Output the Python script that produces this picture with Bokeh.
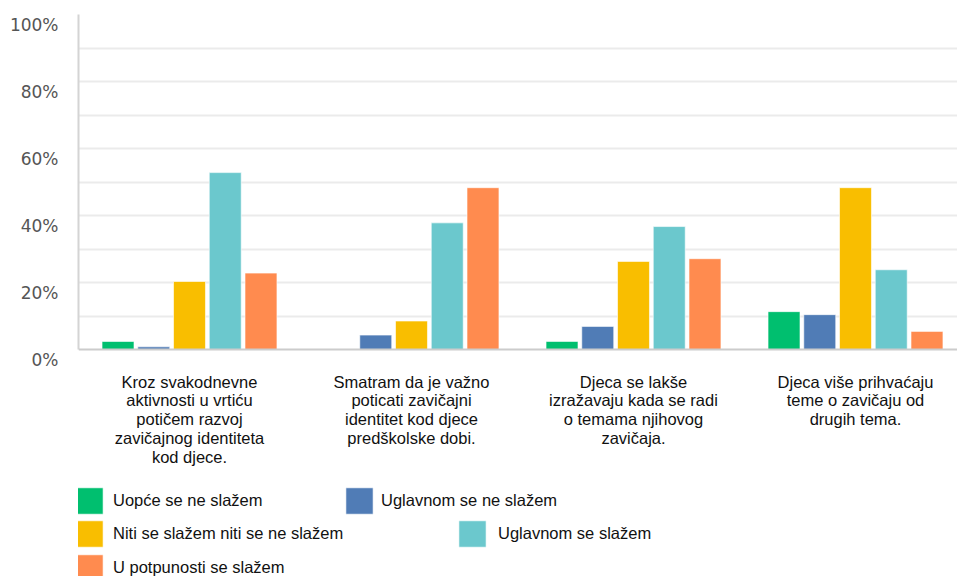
from bokeh.plotting import figure
from bokeh.models import (Range1d, LinearAxis, FixedTicker, PrintfTickFormatter,
                          Span, Legend, LegendItem)
from bokeh.core.properties import value
from bokeh.embed import file_html
from bokeh.resources import INLINE

categories = [
    "Kroz svakodnevne\naktivnosti u vrtiću\npotičem razvoj\nzavičajnog identiteta\nkod djece.",
    "Smatram da je važno\npoticati zavičajni\nidentitet kod djece\npredškolske dobi.",
    "Djeca se lakše\nizražavaju kada se radi\no temama njihovog\nzavičaja.",
    "Djeca više prihvaćaju\nteme o zavičaju od\ndrugih tema.",
]
series_names = [
    "Uopće se ne slažem",
    "Uglavnom se ne slažem",
    "Niti se slažem niti se ne slažem",
    "Uglavnom se slažem",
    "U potpunosti se slažem",
]
uopce_ne = [2.4, 0.0, 2.4, 11.3]
uglavnom_ne = [0.8, 4.3, 6.9, 10.4]
niti_niti = [20.3, 8.5, 26.3, 48.3]
uglavnom_da = [52.8, 37.8, 36.7, 23.8]
potpuno_da = [22.8, 48.3, 27.1, 5.4]
y_ticks = [0, 20, 40, 60, 80, 100]

series = [uopce_ne, uglavnom_ne, niti_niti, uglavnom_da, potpuno_da]
colors = ["#00BF6F", "#507CB6", "#F9BE00", "#6BC8CD", "#FF8B4F"]

group_centers = [i + 0.5 for i in range(len(categories))]
step = 0.161
bar_w = 0.144

W, H = 957, 576
top_px, base_px = 14, 349           # pixel rows of 100% and 0%
px_per_unit = (base_px - top_px) / 100.0
y_start = -(H - base_px) / px_per_unit
shift = 10 / px_per_unit            # tick labels sit ~10px below their gridlines

p = figure(width=W, height=H, output_backend="svg", toolbar_location=None,
           x_range=Range1d(0, (W - 78) / 222.0), y_range=Range1d(y_start, 100),
           min_border_left=78, min_border_right=0, min_border_top=top_px,
           min_border_bottom=0)
p.outline_line_color = None
p.background_fill_color = "white"
p.border_fill_color = "white"
p.xaxis.visible = False

# grid
p.xgrid.visible = False
p.ygrid.ticker = FixedTicker(ticks=[10, 20, 30, 40, 50, 60, 70, 80, 90, 100])
p.ygrid.grid_line_color = "#ebebeb"
p.ygrid.grid_line_width = 2

renderers = []
for k, (vals, col) in enumerate(zip(series, colors)):
    xs = [c + (k - 2) * step for c in group_centers]
    r = p.vbar(x=xs, top=vals, bottom=0, width=bar_w, fill_color=col,
               line_color="white", line_alpha=0.6, line_width=1)
    renderers.append(r)

# baseline
p.add_layout(Span(location=0, dimension="width", line_color="#cccccc", line_width=2))

# primary y axis: line only
p.yaxis.bounds = (0, 100)
p.yaxis.ticker = FixedTicker(ticks=[])
p.yaxis.axis_line_color = "#d4d4d4"
p.yaxis.axis_line_width = 2
p.yaxis.major_tick_line_color = None
p.yaxis.minor_tick_line_color = None
p.yaxis.major_label_standoff = 0

# label axis, shifted slightly downward as in the reference
p.extra_y_ranges = {"lab": Range1d(y_start + shift, 100 + shift)}
lab = LinearAxis(y_range_name="lab", ticker=FixedTicker(ticks=y_ticks),
                 formatter=PrintfTickFormatter(format="%d%%"))
lab.axis_line_color = None
lab.major_tick_line_color = None
lab.minor_tick_line_color = None
lab.major_label_standoff = 14
lab.major_label_text_font = "DejaVu Sans"
lab.major_label_text_font_size = "17px"
lab.major_label_text_color = "#555555"
p.add_layout(lab, "left")

# category labels under the groups
p.text(x=group_centers, y=[0] * len(group_centers), text=categories,
       y_offset=23, text_align="center", text_baseline="top",
       text_font=value("Liberation Sans"), text_font_size="16.5px",
       text_line_height=1.045, text_color="#111111")

# legend items, placed individually as in the reference
# (series index, x offset from frame left, bottom offset from frame bottom, standoff)
legend_pos = [(0, -6, 59, 7), (1, 264, 59, 5), (2, -6, 26, 7), (3, 377, 26, 9), (4, -6, -8, 7)]
for i, vx, vy, so in legend_pos:
    leg = Legend(items=[LegendItem(label=series_names[i], renderers=[renderers[i]])],
                 location=(vx, vy), orientation="horizontal",
                 glyph_width=34, glyph_height=33, label_standoff=so,
                 spacing=0, padding=0, margin=0,
                 border_line_color=None, background_fill_alpha=0,
                 label_text_font="Liberation Sans", label_text_font_size="16.5px",
                 label_text_color="#111111", label_height=26)
    p.add_layout(leg, "center")

open("out.html", "w").write(file_html(p, INLINE))
